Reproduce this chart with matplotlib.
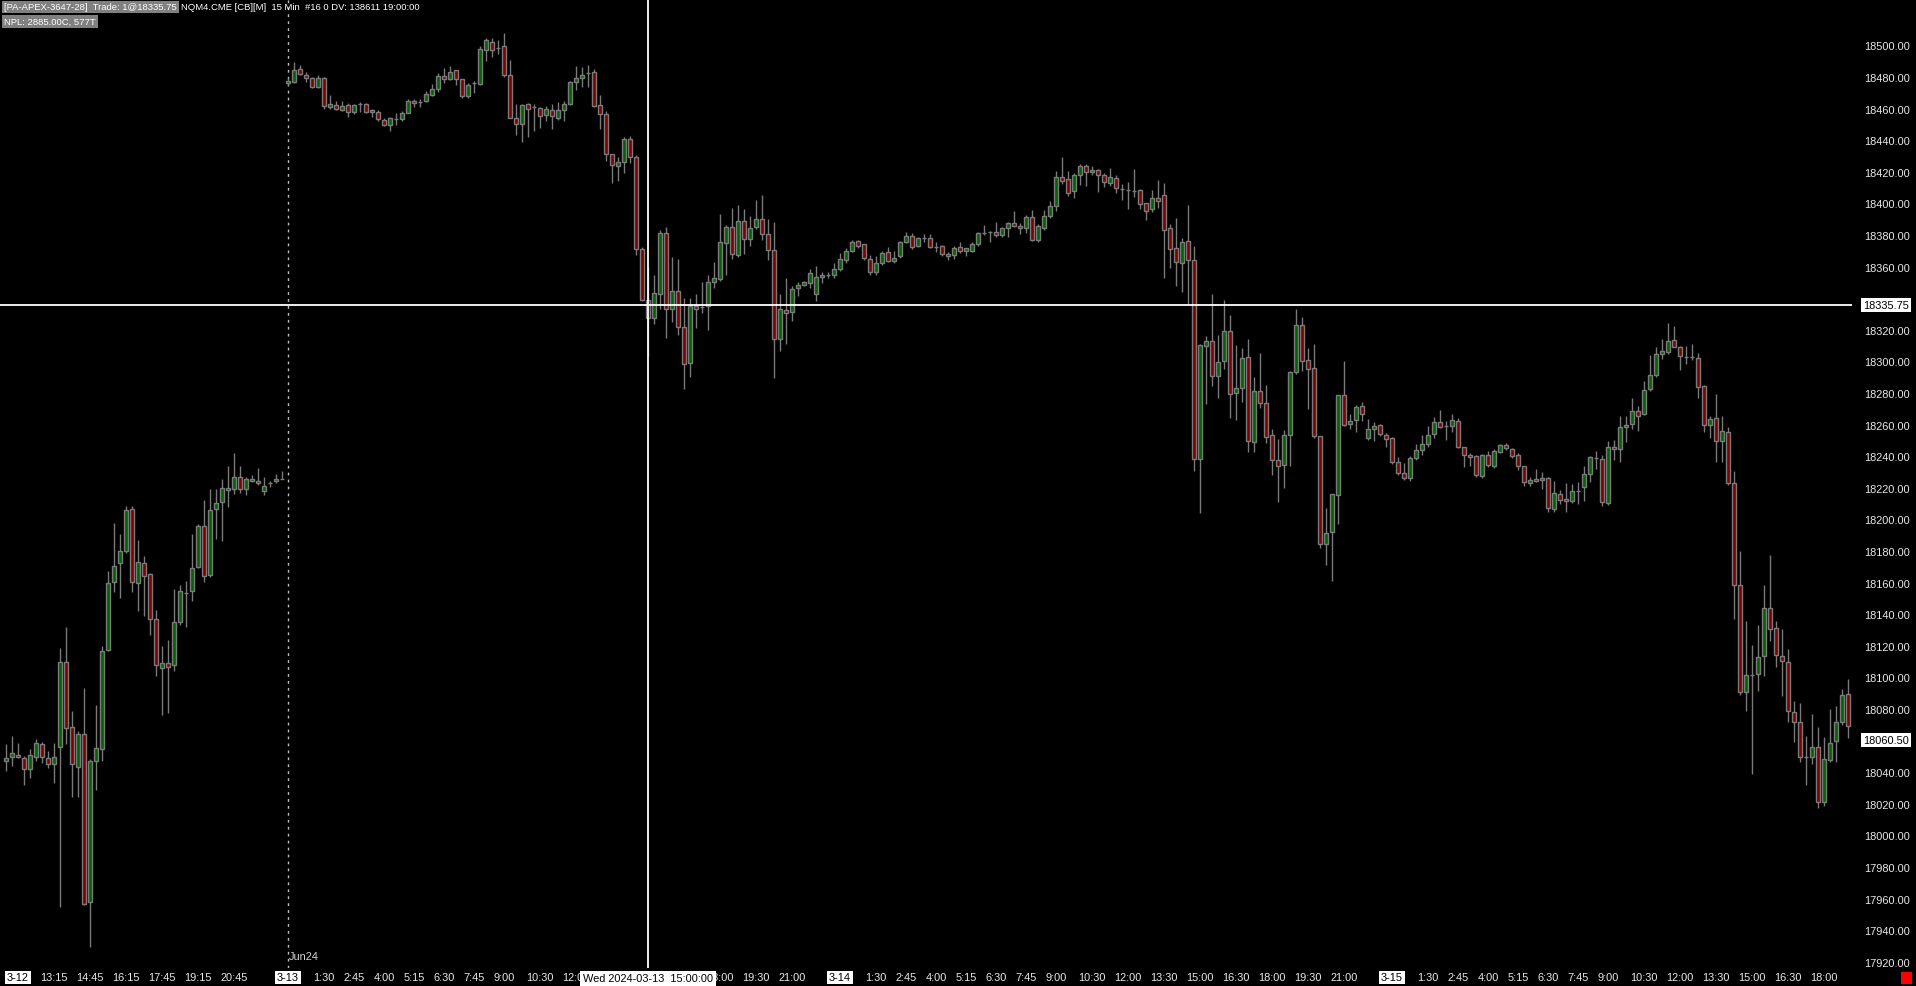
import matplotlib
matplotlib.use("Agg")
import matplotlib.pyplot as plt
from matplotlib.patches import Rectangle
import numpy as np

plt.rcParams['font.family'] = ['Liberation Sans', 'DejaVu Sans']

# ---------------- data (15-min NQ bars, 3-12 11:15 .. 3-15 19:00) ----------------
opens = [
    # 3-12 (11:15 - 22:45)
    18047, 18049.5, 18050.7, 18048.8, 18042, 18049.4, 18057.7, 18048.8, 18045, 18055.8,
    18109.6, 18068.4, 18043.1, 18064, 17957.7, 18046.9, 18054.7, 18117.6, 18160.2, 18172.2,
    18179.8, 18206.4, 18159.6, 18172.3, 18165.5, 18136.8, 18105.8, 18109, 18108.1, 18135.3,
    18153.6, 18154.5, 18169.7, 18195.6, 18165, 18206.4, 18210.8, 18220.1, 18219.3, 18226.6,
    18219, 18224.5, 18224.1, 18217.8, 18222.8, 18224.3, 18225.8,
    # 3-13
    18476, 18477, 18484.8, 18481.6, 18479.7, 18473.4, 18479.3, 18461.2, 18462, 18459.1,
    18462.2, 18457.6, 18462.7, 18462.7, 18457.6, 18458, 18453, 18449.4, 18453.2, 18453.2,
    18457.4, 18465, 18464.3, 18464.6, 18468.6, 18472.2, 18480.4, 18478.5, 18484.2, 18478.5,
    18468.1, 18476, 18475.5, 18497.3, 18502.5, 18498.5, 18499.4, 18481.6, 18454.2, 18450.6,
    18462.7, 18461.2, 18460.1, 18455.7, 18458.9, 18453.8, 18458.9, 18462.7, 18476.6, 18479.1,
    18482.7, 18483.5, 18462, 18456.3, 18431, 18423.4, 18426, 18440.5, 18429.1, 18370.9,
    18339.2, 18327.8, 18342.4, 18381.6, 18333.3, 18344.9, 18322.1, 18299.2, 18334.8, 18334.6,
    18335.4, 18350, 18351.9, 18374.7, 18385.4, 18367.5, 18388.6, 18377.2, 18384.8, 18389.9,
    18380.4, 18370.3, 18314.3, 18332.3, 18331, 18346.2, 18348.1, 18349.4, 18342.4, 18353.2,
    18354.8, 18354.4,
    # 3-14
    18358.2, 18364.4, 18370.1, 18376, 18374.1, 18364.6, 18356.4, 18362.1, 18369, 18363.3,
    18366.5, 18375.4, 18379.2, 18372.8, 18378.1, 18378.3, 18372.6, 18372.8, 18367.8, 18367.1,
    18372.2, 18369.7, 18370.1, 18374.1, 18381.1, 18382, 18381.7, 18379.8, 18384.2, 18387.4,
    18385.5, 18384.6, 18391.2, 18377, 18384.2, 18391.8, 18398.1, 18416.5, 18415.2, 18407.6,
    18417.7, 18423.4, 18419.6, 18420.9, 18417.7, 18412.7, 18416, 18409.1, 18408.5, 18408,
    18408.2, 18400, 18396.2, 18403.2, 18405.1, 18384.2, 18371.5, 18362, 18376, 18363.9,
    18238.2, 18309.5, 18313.1, 18290.5, 18300, 18319, 18279.8, 18282.9, 18302.6, 18248.8,
    18281, 18273.4, 18253.2, 18237.4, 18234.2, 18253.2, 18293.1, 18322.8, 18300.7, 18295.6,
    18252.6, 18184.2, 18191.8, 18215.2, 18278.5, 18260.1, 18262.7, 18271.5, 18251.3, 18257,
    18259.5, 18253.2,
    # 3-15 (0:00 - 19:00)
    18251.3, 18236.1, 18229.2, 18226, 18238.7, 18243.7, 18247.5, 18253.8, 18261.4, 18258.9,
    18258.9, 18262.1, 18245.6, 18240.6, 18239.9, 18227.3, 18240.6, 18233.6, 18242.5, 18246.9,
    18244.4, 18240.6, 18233.6, 18222.8, 18225.4, 18224.7, 18226, 18206.6, 18215.9, 18212.7,
    18211.4, 18218.2, 18220.3, 18228.5, 18238.7, 18238, 18210.2, 18245.6, 18244.4, 18258.3,
    18260.5, 18268.8, 18266.5, 18282.3, 18291.4, 18304.5, 18306.2, 18313.3, 18309.3, 18302.6,
    18302.6, 18302, 18284.2, 18259.8, 18264, 18249.8, 18255.3, 18222.8, 18158.7, 18090.5,
    18101.5, 18102.2, 18113.8, 18143.9, 18131.1, 18113.3, 18109.5, 18078.3, 18071.6, 18049.4,
    18049.4, 18056.2, 18020.9, 18047.7, 18059.8, 18071.6, 18089.5,
]
highs = [
    18058, 18063, 18058.5, 18050, 18055, 18061, 18059.4, 18053.2, 18058.5, 18118.6,
    18131.9, 18079, 18066.3, 18093.3, 18048.4, 18082.6, 18119.7, 18167.4, 18197.8, 18190.8,
    18208.3, 18208.3, 18187, 18177, 18166, 18142.7, 18120.1, 18123.7, 18156, 18158.5,
    18160.8, 18190.8, 18197.1, 18212.5, 18219.2, 18219.2, 18225.6, 18234, 18242, 18234,
    18226.6, 18228, 18232.5, 18227, 18224.5, 18228.7, 18230.4,
    18479.7, 18489.7, 18487.5, 18483, 18480, 18481.6, 18480, 18468.6, 18465, 18464.6,
    18463.7, 18462.9, 18464.1, 18463.5, 18459.7, 18458.9, 18454, 18454.4, 18457, 18458.6,
    18465.8, 18465.8, 18465.8, 18471, 18475.5, 18482.3, 18485.7, 18486.9, 18484.5, 18479,
    18476, 18477.4, 18499.8, 18505, 18505, 18503.4, 18507.8, 18490.7, 18462.9, 18462.9,
    18463.5, 18462.9, 18460.8, 18461.4, 18462.9, 18463.9, 18464.6, 18477.6, 18486.9, 18486.5,
    18487.5, 18485.4, 18468.6, 18458.2, 18431.5, 18429.1, 18441.8, 18442.6, 18430.6, 18372.6,
    18359.5, 18354.8, 18383.1, 18384.8, 18365.8, 18364.8, 18340.1, 18340.1, 18342.6, 18350.4,
    18354.6, 18363.1, 18393.2, 18386.3, 18397, 18398.9, 18396.4, 18392.2, 18402.1, 18405.5,
    18390.1, 18388.4, 18342.6, 18352.7, 18347.9, 18350, 18351, 18358.4, 18360.5, 18356.8,
    18356.3, 18362.2,
    18368.6, 18372, 18377, 18377, 18374.5, 18367.4, 18366.5, 18369.7, 18372.2, 18369.7,
    18376.4, 18381.7, 18381.3, 18378.5, 18380.6, 18380.6, 18375.4, 18373.7, 18369, 18373.3,
    18375.8, 18372, 18375.4, 18382.1, 18386.3, 18382.8, 18388.5, 18385.3, 18388.5, 18395.2,
    18387.6, 18392.8, 18396, 18387, 18396, 18401.7, 18420.3, 18429.3, 18420.5, 18419,
    18424.9, 18424.9, 18423.4, 18421.7, 18419, 18422.4, 18418, 18412.2, 18413.3, 18421.7,
    18409.1, 18400.5, 18408.5, 18414.8, 18412.9, 18386.9, 18390.7, 18378.1, 18398.9, 18372.8,
    18311, 18316.3, 18342.6, 18316.7, 18338.8, 18329.4, 18310.4, 18308.2, 18314.2, 18289.9,
    18305.3, 18285, 18257.2, 18250.9, 18256.8, 18294, 18333.1, 18327.9, 18308.2, 18311,
    18253, 18207, 18216, 18279, 18300.4, 18266.7, 18272.4, 18274.1, 18263.5, 18261.4,
    18260.4, 18254.6,
    18252, 18239.3, 18235.7, 18240, 18247.7, 18253.4, 18259.3, 18264.6, 18269.3, 18262.5,
    18266.7, 18264, 18246, 18242, 18240.5, 18241.4, 18243.5, 18244.6, 18247.5, 18248.4,
    18245.2, 18242, 18234, 18226.6, 18231.9, 18229.8, 18227, 18224.3, 18218.8, 18223,
    18222.4, 18223.5, 18234, 18240, 18243.5, 18240.8, 18249.8, 18250.3, 18265.7, 18265.7,
    18277, 18271.5, 18287.8, 18304, 18308.9, 18314.2, 18324.1, 18322.2, 18310, 18309.5,
    18311, 18305.1, 18285, 18265.7, 18279.4, 18265.7, 18258.7, 18230.9, 18179.8, 18135.5,
    18120.5, 18133.2, 18158.5, 18177.5, 18135.9, 18130.6, 18118, 18085.3, 18083.6, 18062.7,
    18076.8, 18068.8, 18062, 18080, 18082.1, 18092.7, 18099,
]
lows = [
    18041, 18044, 18049, 18032, 18036.6, 18047.3, 18046, 18043, 18033, 17954.5,
    18057.7, 18024.5, 18024.5, 17956, 17929.6, 18029, 18047.3, 18117, 18154.3, 18150.5,
    18179, 18154.3, 18142.3, 18139.1, 18127, 18101.1, 18076.4, 18077.5, 18103.9, 18133.4,
    18132.1, 18148.6, 18169, 18160.6, 18163.8, 18187.6, 18186.5, 18208, 18216, 18217,
    18215.7, 18224, 18222, 18215.7, 18220.7, 18223, 18225.4,
    18475, 18476, 18481, 18476.6, 18473, 18473, 18459.7, 18459.5, 18459, 18458.2,
    18454.4, 18456.5, 18458, 18457, 18454.4, 18452, 18449, 18446, 18449.6, 18452,
    18457, 18460.8, 18461.2, 18464, 18468, 18470.3, 18476.4, 18478, 18475.1, 18467,
    18467, 18470, 18475, 18489.9, 18493, 18494.7, 18480.2, 18454, 18443.5, 18438.6,
    18442.2, 18446, 18447.9, 18452.3, 18447, 18453, 18451.9, 18462, 18472, 18473.4,
    18473.4, 18461, 18447, 18427, 18413.1, 18414.3, 18419.4, 18425.3, 18367.5, 18338,
    18303.6, 18323.8, 18333.5, 18314.8, 18325.1, 18316.9, 18282.5, 18290.3, 18321.3, 18330.8,
    18320, 18346.2, 18351, 18354.6, 18364.8, 18366.4, 18367.9, 18373.2, 18384, 18377,
    18364.1, 18289.5, 18306.5, 18311, 18325.7, 18341.6, 18347.5, 18346.4, 18338.4, 18349.6,
    18353, 18353,
    18357.4, 18362, 18369, 18372, 18364, 18354.7, 18355, 18361.2, 18362.7, 18362.1,
    18365.2, 18375, 18371.2, 18372.2, 18375.4, 18372, 18369.5, 18367, 18364.4, 18364.8,
    18368.6, 18367, 18369.5, 18373.3, 18380, 18375.8, 18379, 18379, 18379, 18385,
    18380.6, 18381.6, 18376.4, 18375.8, 18383, 18391, 18395.2, 18412.2, 18404.9, 18403.4,
    18411.6, 18411.2, 18418.2, 18407.4, 18410.6, 18411, 18406.6, 18402.3, 18396.4, 18403.8,
    18396.4, 18389.7, 18394.7, 18397, 18352.5, 18358.9, 18347.5, 18343.7, 18336.3, 18230.4,
    18204, 18273, 18284.2, 18276.6, 18295.2, 18264.2, 18263.1, 18274.1, 18242.8, 18242.8,
    18270.3, 18248.3, 18228.3, 18210.8, 18219.9, 18234, 18292, 18294.1, 18269.9, 18251.3,
    18182.1, 18171.1, 18161.2, 18197.1, 18258.9, 18257.2, 18255.5, 18262, 18250.4, 18249.8,
    18253, 18246,
    18235, 18228, 18225, 18224.5, 18237.8, 18240.8, 18246, 18251.3, 18258, 18250.5,
    18255.1, 18245, 18233.4, 18233.6, 18226.6, 18226, 18233, 18232.8, 18242, 18244.1,
    18239, 18231.5, 18220.9, 18220.9, 18223.9, 18219.3, 18205, 18205, 18210, 18205,
    18210.4, 18209.8, 18211.9, 18223.5, 18232, 18208.7, 18209, 18237.8, 18236.1, 18248.8,
    18257.5, 18256, 18266, 18281, 18290, 18301.5, 18304.7, 18309, 18294.6, 18298.4,
    18301, 18276.6, 18255.1, 18251.3, 18236.1, 18236.5, 18222, 18137, 18089.1, 18078.5,
    18038.9, 18091.6, 18101.1, 18123.3, 18106.4, 18088.5, 18072, 18058.9, 18046.3, 18032.1,
    18045.2, 18017.1, 18018.8, 18046.3, 18046.7, 18070, 18061.4,
]
closes = [
    18049, 18052, 18049.4, 18042, 18050.7, 18058.3, 18049.4, 18045, 18049.4, 18109.6,
    18068, 18045, 18064, 17956.4, 18046.9, 18055.1, 18117, 18159.6, 18170.7, 18179.8,
    18205.8, 18160.2, 18172.9, 18164, 18136.8, 18108.1, 18109, 18106.4, 18135.1, 18154.5,
    18153.6, 18169, 18195.6, 18164.4, 18206, 18210.2, 18220.1, 18218.4, 18226.6, 18219,
    18225.4, 18225.4, 18222.8, 18221, 18222.8, 18225.4, 18225.8,
    18477.2, 18484.4, 18481.9, 18479.3, 18473.4, 18479.7, 18461.4, 18462.9, 18459.5, 18461.4,
    18457.8, 18462.2, 18462.7, 18457.6, 18458.9, 18453.2, 18449.6, 18453.8, 18453.2, 18457.2,
    18464.6, 18463.3, 18464.3, 18469, 18472.4, 18480.4, 18478.7, 18483.5, 18478.5, 18467.7,
    18474.8, 18476, 18497.5, 18503.2, 18497.3, 18498.5, 18481.6, 18454.2, 18450.4, 18462.2,
    18459.5, 18461.2, 18455.5, 18459.5, 18455.1, 18458.9, 18462.7, 18476.6, 18479.1, 18481.6,
    18482.7, 18461.8, 18456.3, 18431, 18424.1, 18426, 18440.5, 18429.1, 18370.9, 18339.2,
    18327.8, 18343.1, 18381.6, 18332.9, 18344.9, 18321.5, 18298.7, 18335.4, 18333.5, 18334.6,
    18350, 18352.7, 18375.3, 18384.8, 18367.7, 18388.6, 18377.8, 18384.2, 18389.9, 18380.4,
    18370.3, 18314.3, 18332.9, 18330.4, 18345.6, 18348.7, 18350, 18355.7, 18353.2, 18354.4,
    18354.8, 18358.2,
    18364.6, 18370.1, 18375.4, 18372.8, 18365.2, 18356.4, 18362.1, 18368.4, 18363.3, 18365.7,
    18375.4, 18379.6, 18372.2, 18377.9, 18378.1, 18372.2, 18372.6, 18367.8, 18366.5, 18372,
    18369.7, 18371.6, 18374.1, 18381.1, 18381.1, 18382, 18379.8, 18384.2, 18387.6, 18385.7,
    18384.2, 18391.2, 18377, 18385.7, 18391.8, 18398.1, 18416.5, 18414.4, 18406.8, 18417.7,
    18423.6, 18419.6, 18420.9, 18417.9, 18413.3, 18416.7, 18409.5, 18409.1, 18408.5, 18408,
    18399.4, 18395.4, 18403.2, 18401.7, 18383.3, 18370.9, 18362.7, 18375.3, 18363.9, 18238.2,
    18310.1, 18313.1, 18290.5, 18299.4, 18319, 18279.1, 18282.9, 18301.9, 18249.4, 18281,
    18273.4, 18251.9, 18237.4, 18233.6, 18253.2, 18293.1, 18322.8, 18300, 18295, 18252.6,
    18184.2, 18191.2, 18215.8, 18278.5, 18259.5, 18262, 18270.9, 18266.5, 18257, 18258.9,
    18253.8, 18250.6,
    18236.1, 18229.2, 18226, 18238.7, 18243.7, 18247.5, 18253.2, 18261.4, 18258.3, 18258.9,
    18262.7, 18245.6, 18240.6, 18239.3, 18227.9, 18240.6, 18234.2, 18243.1, 18246.9, 18245,
    18239.9, 18233.6, 18223.5, 18224.7, 18224.1, 18226, 18207, 18216.5, 18212.1, 18211.4,
    18217.8, 18218.2, 18228.5, 18239.3, 18238.7, 18210.8, 18245.6, 18244.4, 18258.3, 18259.5,
    18268.8, 18265.2, 18281.9, 18291.4, 18304.9, 18306.6, 18312.9, 18309.3, 18303.2, 18302.6,
    18302.6, 18283.6, 18259.8, 18263.5, 18249.8, 18256, 18222.8, 18158.7, 18090.5, 18101.5,
    18101.5, 18112.7, 18143.9, 18130.6, 18114.4, 18110.2, 18079, 18071.6, 18049.4, 18049.4,
    18056.2, 18021.4, 18048.4, 18058.7, 18071.6, 18088.9, 18069.3,
]

price_ticks = list(range(17920, 18501, 20))
# time labels (bar index -> label); labels fully hidden behind the cursor box are omitted
time_tick_pos = [2, 8, 14, 20, 26, 32, 38,
                 47, 53, 58, 63, 68, 73, 78, 83, 89, 95, 119, 125, 131,
                 139, 145, 150, 155, 160, 165, 170, 175, 181, 187, 193, 199, 205, 211, 217, 223,
                 231, 237, 242, 247, 252, 257, 262, 267, 273, 279, 285, 291, 297, 303]
time_tick_labels = ['3-12', '13:15', '14:45', '16:15', '17:45', '19:15', '20:45',
                    '3-13', '1:30', '2:45', '4:00', '5:15', '6:30', '7:45', '9:00', '10:30', '12:00',
                    '18:00', '19:30', '21:00',
                    '3-14', '1:30', '2:45', '4:00', '5:15', '6:30', '7:45', '9:00', '10:30', '12:00',
                    '13:30', '15:00', '16:30', '18:00', '19:30', '21:00',
                    '3-15', '1:30', '2:45', '4:00', '5:15', '6:30', '7:45', '9:00', '10:30', '12:00',
                    '13:30', '15:00', '16:30', '18:00']
trade_price = 18335.75
last_price = 18060.50
cursor_bar = 107
cursor_label = 'Wed 2024-03-13  15:00:00'
roll_bar = 47
roll_label = 'Jun24'
header_box1 = '[PA-APEX-3647-28]  Trade: 1@18335.75'
header_rest = 'NQM4.CME [CB][M]  15 Min  #16 0 DV: 138611 19:00:00'
header_box2 = 'NPL: 2885.00C, 577T'

# ---------------- figure ----------------
W, H = 1916, 987
fig = plt.figure(figsize=(W / 100, H / 100), dpi=100, facecolor='black')
ax = fig.add_axes([0, 18 / H, 1852 / W, 969 / H])
ax.set_facecolor('black')
for s in ax.spines.values():
    s.set_visible(False)

o = np.array(opens); h = np.array(highs); l = np.array(lows); c = np.array(closes)
x = np.arange(len(o))
up = c >= o
fills = np.where(up, '#006400', '#800000')
edge = '#7a7a7a'

ax.vlines(x, l, h, color=edge, linewidth=1, zorder=2)
ax.bar(x, np.abs(c - o), bottom=np.minimum(o, c), width=0.72, color=fills,
       edgecolor=edge, linewidth=1, zorder=3)

ax.set_xlim(-1, 307.67)
ax.set_ylim(17916.1, 18529.4)

# contract roll dotted line
ax.axvline(roll_bar, color='#bdbdbd', linewidth=1, linestyle=(0, (2, 3)), zorder=1)
# crosshair
ax.axhline(trade_price, color='white', linewidth=1.3, zorder=6)
ax.axvline(cursor_bar, color='white', linewidth=1.3, zorder=6)

# right price axis (labels hidden where a price marker sits)
ax.yaxis.tick_right()
ax.set_yticks(price_ticks)
ax.set_yticklabels(['' if min(abs(v - trade_price), abs(v - last_price)) < 8 else f'{v:.2f}'
                    for v in price_ticks])
ax.tick_params(axis='y', length=0, pad=8.5, labelsize=7.9, labelcolor='#e8e8e8')

# bottom time axis
ax.set_xticks(time_tick_pos)
ax.set_xticklabels(time_tick_labels)
ax.tick_params(axis='x', length=0, pad=3.0, labelsize=7.9, labelcolor='#e8e8e8')
for lbl in ax.get_xticklabels():
    if '-' in lbl.get_text():
        lbl.set_color('black')
        lbl.set_bbox(dict(facecolor='white', edgecolor='none', pad=1.2))

# crosshair labels
ax.text(cursor_bar, -0.0105, cursor_label, transform=ax.get_xaxis_transform(),
        ha='center', va='center', fontsize=7.9, color='black', clip_on=False, zorder=20,
        bbox=dict(facecolor='white', edgecolor='none', pad=1.8))
ytr = ax.get_yaxis_transform()
ax.text(1.0059, trade_price, f'{trade_price:.2f}', transform=ytr, ha='left', va='center',
        fontsize=7.9, color='black', clip_on=False, zorder=20,
        bbox=dict(facecolor='white', edgecolor='none', pad=1.5))
ax.text(1.0059, last_price, f'{last_price:.2f}', transform=ytr, ha='left', va='center',
        fontsize=7.9, color='black', clip_on=False, zorder=20,
        bbox=dict(facecolor='white', edgecolor='none', pad=1.5))

# roll label
ax.text(roll_bar + 0.2, 17924, roll_label, ha='left', va='center', fontsize=7.9,
        color='#d0d0d0', zorder=7)

# header
fig.text(4 / W, 1 - 8 / H, header_box1, ha='left', va='center', fontsize=6.8, color='white',
         bbox=dict(facecolor='#808080', edgecolor='none', pad=1.3))
fig.text(181 / W, 1 - 8 / H, header_rest, ha='left', va='center', fontsize=6.8, color='white')
fig.text(4 / W, 1 - 22.5 / H, header_box2, ha='left', va='center', fontsize=6.8, color='white',
         bbox=dict(facecolor='#808080', edgecolor='none', pad=1.3))

# small red marker bottom-right
fig.patches.append(Rectangle((1901 / W, 1 - 985 / H), 11 / W, 12 / H, transform=fig.transFigure,
                             facecolor='#ff0000', edgecolor='none'))

fig.savefig('out.png', dpi=100, facecolor='black')
